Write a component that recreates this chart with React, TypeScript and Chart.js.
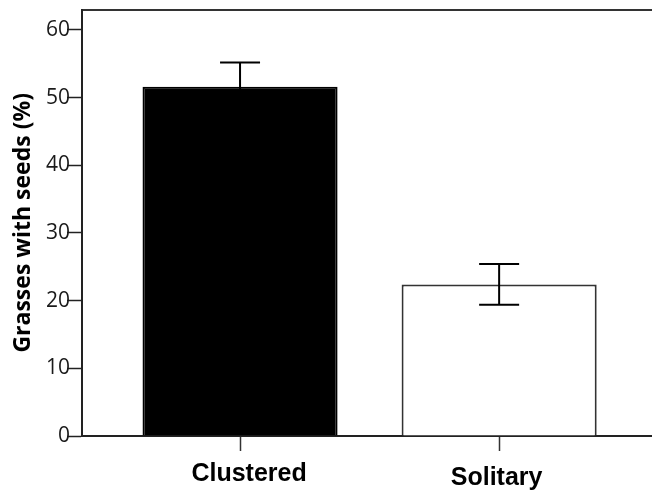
import React, { useEffect, useRef } from "react";
import { Chart, registerables } from "chart.js";

Chart.register(...registerables);

const categories = ["Clustered", "Solitary"];
const values = [51.6, 22.4];
const errors = [3.6, 3.0];
const yTickValues = [0, 10, 20, 30, 40, 50, 60];
const yTitle = "Grasses with seeds (%)";

// label placement tweaks (style only)
const labelShiftX = [9, -2.5];
const labelBaselineY = [45, 49];

const errorBarPlugin = {
  id: "errorBars",
  afterDatasetsDraw(chart: any) {
    const ctx = chart.ctx;
    const xs = chart.scales.x;
    const ys = chart.scales.y;
    ctx.save();
    ctx.strokeStyle = "#000";
    ctx.lineWidth = 2;
    values.forEach((v, i) => {
      const x = xs.getPixelForValue(i + 1);
      const yTop = ys.getPixelForValue(v + errors[i]);
      const yBot = ys.getPixelForValue(v - errors[i]);
      const half = 20;
      ctx.beginPath();
      ctx.moveTo(x, yTop);
      ctx.lineTo(x, yBot);
      ctx.moveTo(x - half, yTop);
      ctx.lineTo(x + half, yTop);
      ctx.moveTo(x - half, yBot);
      ctx.lineTo(x + half, yBot);
      ctx.stroke();
    });
    ctx.restore();
  },
};

const categoryLabelPlugin = {
  id: "categoryLabels",
  afterDraw(chart: any) {
    const ctx = chart.ctx;
    const xs = chart.scales.x;
    ctx.save();
    ctx.fillStyle = "#000";
    ctx.font = "bold 25px 'Liberation Sans', Arial, sans-serif";
    ctx.textAlign = "center";
    ctx.textBaseline = "alphabetic";
    categories.forEach((c, i) => {
      const x = xs.getPixelForValue(i + 1) + labelShiftX[i];
      ctx.fillText(c, x, xs.top + labelBaselineY[i]);
    });
    ctx.restore();
  },
};

export default function App() {
  const ref = useRef<HTMLCanvasElement | null>(null);

  useEffect(() => {
    if (!ref.current) return;
    const chart = new Chart(ref.current, {
      type: "bar",
      data: {
        datasets: [
          {
            data: values.map((v, i) => ({ x: i + 1, y: v })),
            backgroundColor: ["#000000", "#ffffff"],
            borderColor: ["#000000", "#333333"],
            borderWidth: 2,
            barPercentage: 0.753,
            categoryPercentage: 1,
          },
        ],
      },
      options: {
        animation: false,
        responsive: true,
        maintainAspectRatio: false,
        devicePixelRatio: 1,
        layout: { padding: { top: 9, right: 0, left: 0, bottom: 0 } },
        plugins: { legend: { display: false }, tooltip: { enabled: false } },
        scales: {
          x: {
            type: "linear",
            position: "bottom",
            offset: false,
            min: 0.39,
            max: 2.59,
            afterBuildTicks: (scale: any) => {
              scale.ticks = categories.map((_, i) => ({ value: i + 1 }));
            },
            afterFit: (scale: any) => {
              scale.height = 55;
            },
            grid: {
              offset: false,
              drawOnChartArea: false,
              drawTicks: true,
              tickLength: 15,
              tickColor: "#333",
              tickWidth: 1.5,
            },
            border: { display: true, color: "#222", width: 2 },
            ticks: { display: false },
          },
          x2: {
            type: "linear",
            position: "top",
            min: 0,
            max: 1,
            afterFit: (scale: any) => {
              scale.height = 0;
            },
            grid: { drawOnChartArea: false, drawTicks: false },
            ticks: { display: false },
            border: { display: true, color: "#333", width: 2 },
          },
          y: {
            type: "linear",
            min: 0,
            max: 63,
            afterBuildTicks: (scale: any) => {
              scale.ticks = yTickValues.map((v) => ({ value: v }));
            },
            afterFit: (scale: any) => {
              scale.width = 82;
            },
            grid: {
              drawOnChartArea: false,
              drawTicks: true,
              tickLength: 15,
              tickColor: "#222",
              tickWidth: 1.5,
            },
            border: { display: true, color: "#222", width: 2 },
            ticks: {
              padding: -3,
              color: "#1a1a1a",
              font: { family: "'Open Sans', sans-serif", size: 21 },
            },
            title: {
              display: true,
              text: yTitle,
              color: "#000",
              padding: { top: 10, bottom: 0 },
              font: { family: "'Open Sans', sans-serif", size: 23, weight: "bold" },
            },
          },
        },
      },
      plugins: [errorBarPlugin, categoryLabelPlugin],
    });
    return () => chart.destroy();
  }, []);

  return (
    <div style={{ position: "fixed", left: 0, top: 0, width: 652, height: 491, background: "#fff" }}>
      <canvas ref={ref} />
    </div>
  );
}
